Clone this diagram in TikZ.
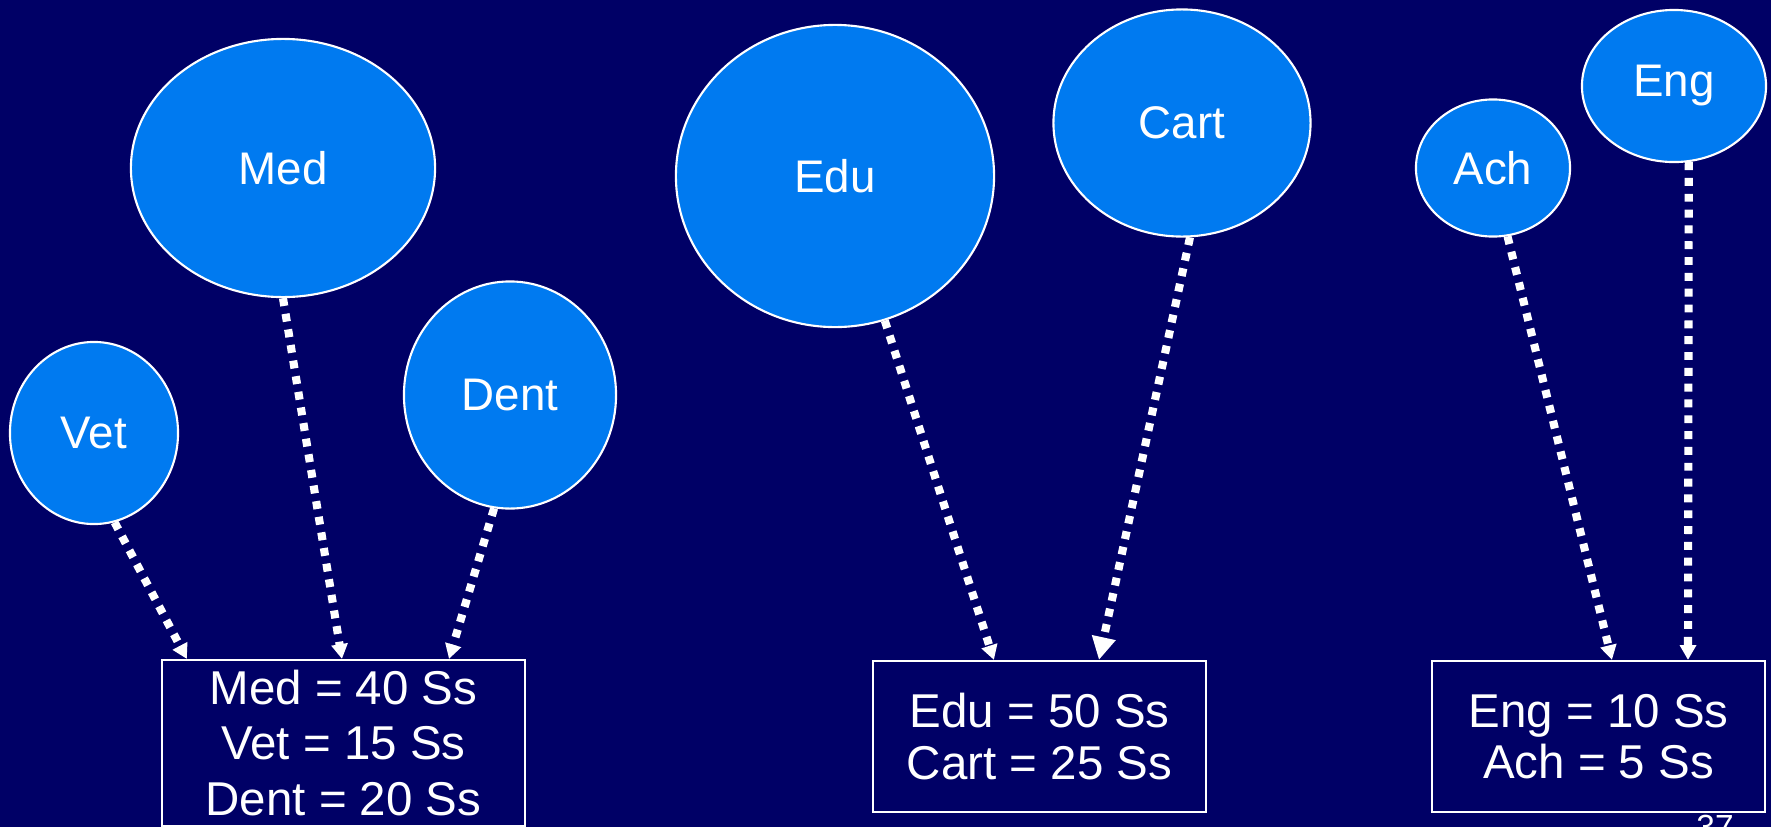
\documentclass[tikz,border=0pt]{standalone}
\usepackage{fontspec}
\setmainfont{Liberation Sans}
\usetikzlibrary{shapes.geometric,arrows.meta}
\definecolor{bgnavy}{RGB}{0,0,102}
\definecolor{ballblue}{RGB}{0,122,240}
\begin{document}
\begin{tikzpicture}[x=0.01cm,y=-0.01cm,
  ball/.style={ellipse, draw=white, line width=0.6pt, fill=ballblue, inner sep=0pt, text=white, font=\fontsize{13}{15}\selectfont},
  tally/.style={rectangle, draw=white, line width=0.6pt, inner sep=0pt, text=white, align=center},
  conn/.style={draw=white, line width=2.3pt, dash pattern=on 2.25pt off 2.25pt, -{Triangle[width=4.5pt,length=4.2pt]}},
  bigconn/.style={conn, -{Triangle[width=6.5pt,length=6.5pt]}},
]
\fill[bgnavy] (0,0) rectangle (1771,827);
\useasboundingbox (0,0) rectangle (1771,827);

% balloons
\node[ball, minimum width=1.68cm, minimum height=1.82cm] (vet) at (94,433) {Vet};
\node[ball, minimum width=3.04cm, minimum height=2.58cm] (med) at (283,168) {Med};
\node[ball, minimum width=2.12cm, minimum height=2.27cm] (dent) at (510,395) {Dent};
\node[ball, minimum width=3.18cm, minimum height=3.02cm] (edu) at (835,176) {Edu};
\node[ball, minimum width=2.57cm, minimum height=2.27cm] (cart) at (1182,123) {Cart};
\node[ball, minimum width=1.54cm, minimum height=1.37cm] (ach) at (1493,168) {Ach};
\node[ball, minimum width=1.84cm, minimum height=1.52cm] (eng) at (1674,86) {Eng};

% tallies
\node[tally, minimum width=3.63cm, minimum height=1.66cm, font=\fontsize{13.5}{15.9}\selectfont] (box1) at (343.5,743) {Med = 40 Ss\\Vet = 15 Ss\\Dent = 20 Ss};
\node[tally, minimum width=3.33cm, minimum height=1.51cm, font=\fontsize{13.5}{14.6}\selectfont] (box2) at (1039.5,736.5) {Edu = 50 Ss\\Cart = 25 Ss};
\node[tally, minimum width=3.33cm, minimum height=1.51cm, font=\fontsize{13.5}{14.6}\selectfont] (box3) at (1598.5,736.5) {Eng = 10 Ss\\Ach = 5 Ss};

% connectors
\draw[conn] (vet.-77) -- ([xshift=0.26cm]box1.north west);
\draw[conn] (med.south) -- ([xshift=1.81cm]box1.north west);
\draw[conn] (dent.-98) -- ([xshift=2.88cm]box1.north west);
\draw[conn] (edu.-71) -- ([xshift=1.22cm]box2.north west);
\draw[bigconn] (cart.-86) -- ([xshift=2.27cm]box2.north west);
\draw[conn] (ach.-78) -- ([xshift=1.81cm]box3.north west);
\draw[conn] (eng.-79) -- ([xshift=2.57cm]box3.north west);

% page number
\node[text=white, font=\fontsize{9.5}{11}\selectfont, anchor=north, inner sep=0pt] (pnum) at (1715,814) {37};
\end{tikzpicture}
\end{document}
